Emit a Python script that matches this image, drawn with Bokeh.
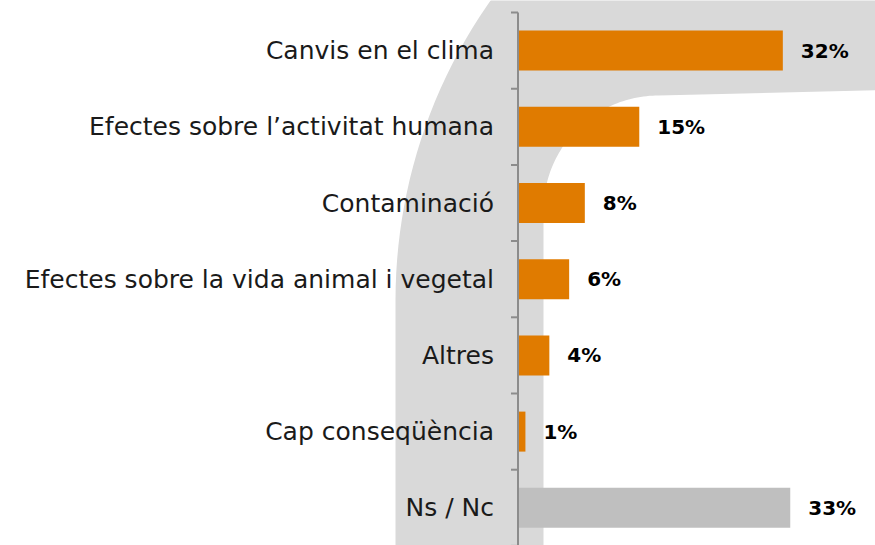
import math
from bokeh.plotting import figure
from bokeh.models import Range1d, ColumnDataSource
from bokeh.embed import file_html
from bokeh.resources import INLINE
from bokeh.core.properties import value

# ---- data ----
categories = [
    "Canvis en el clima",
    "Efectes sobre l\u2019activitat humana",
    "Contaminació",
    "Efectes sobre la vida animal i vegetal",
    "Altres",
    "Cap conseqüència",
    "Ns / Nc",
]
values = [32.1, 14.7, 8.1, 6.2, 3.8, 0.9, 33.0]
value_labels = ["32%", "15%", "8%", "6%", "4%", "1%", "33%"]
bar_colors = ["#E07B00", "#E07B00", "#E07B00", "#E07B00", "#E07B00", "#E07B00", "#BFBFBF"]

# ---- layout helpers (page pixels -> data) ----
W, H = 875, 545
X0, SX = 517.5, 8.25      # page x of value 0, px per percent
Y0, SY = 12.0, 76.2       # page y of top category boundary, px per category


def dx(px):
    return (px - X0) / SX


def dy(py):
    return -0.5 + (py - Y0) / SY


p = figure(width=W, height=H, output_backend="svg", toolbar_location=None,
           x_axis_location=None, y_axis_location=None,
           x_range=Range1d(dx(0), dx(W)), y_range=Range1d(dy(H), dy(0)),
           min_border=0, outline_line_color=None, background_fill_color="white",
           border_fill_color="white")
p.grid.visible = False

# ---- decorative background arch ----
sx, sy = [], []
sx.append(395); sy.append(600)
cx, cy, R = 916, 300, 521
for i in range(61):
    a = math.pi - (math.pi / 2) * i / 60
    sx.append(cx + R * math.cos(a)); sy.append(cy - R * math.sin(a))
sx += [950, 950]; sy += [-221, 88]
icx, icy, r = 658, 210, 115
for i in range(61):
    a = math.pi / 2 + (math.pi / 2) * i / 60
    sx.append(icx + r * math.cos(a)); sy.append(icy - r * math.sin(a))
sx.append(543); sy.append(600)
p.patch([dx(v) for v in sx], [dy(v) for v in sy], fill_color="#D9D9D9", line_color=None)

# ---- bars ----
pos = list(range(len(categories)))
src = ColumnDataSource(dict(y=pos, v=values, c=bar_colors, cat=categories, lab=value_labels))
p.hbar(y="y", left=0, right="v", height=0.525, fill_color="c", line_color=None, source=src)

# ---- axis line and ticks ----
n = len(categories)
p.segment(x0=[0], y0=[-0.5], x1=[0], y1=[n + 0.5], line_color="#8C8C8C", line_width=2)
bounds = [i - 0.5 for i in range(n + 1)]
p.segment(x0=[-7 / SX] * len(bounds), y0=bounds, x1=[0] * len(bounds), y1=bounds,
          line_color="#8C8C8C", line_width=2)

# ---- labels ----
p.text(x=0, y="y", text="cat", source=src, x_offset=-24, text_align="right",
       text_baseline="middle", text_font=value("DejaVu Sans"), text_font_size="25px",
       text_color="#1a1a1a")
p.text(x="v", y="y", text="lab", source=src, x_offset=18, text_align="left",
       text_baseline="middle", text_font=value("DejaVu Sans"), text_font_size="20px",
       text_font_style="bold", text_color="#000000")

open("out.html", "w").write(file_html(p, INLINE))
